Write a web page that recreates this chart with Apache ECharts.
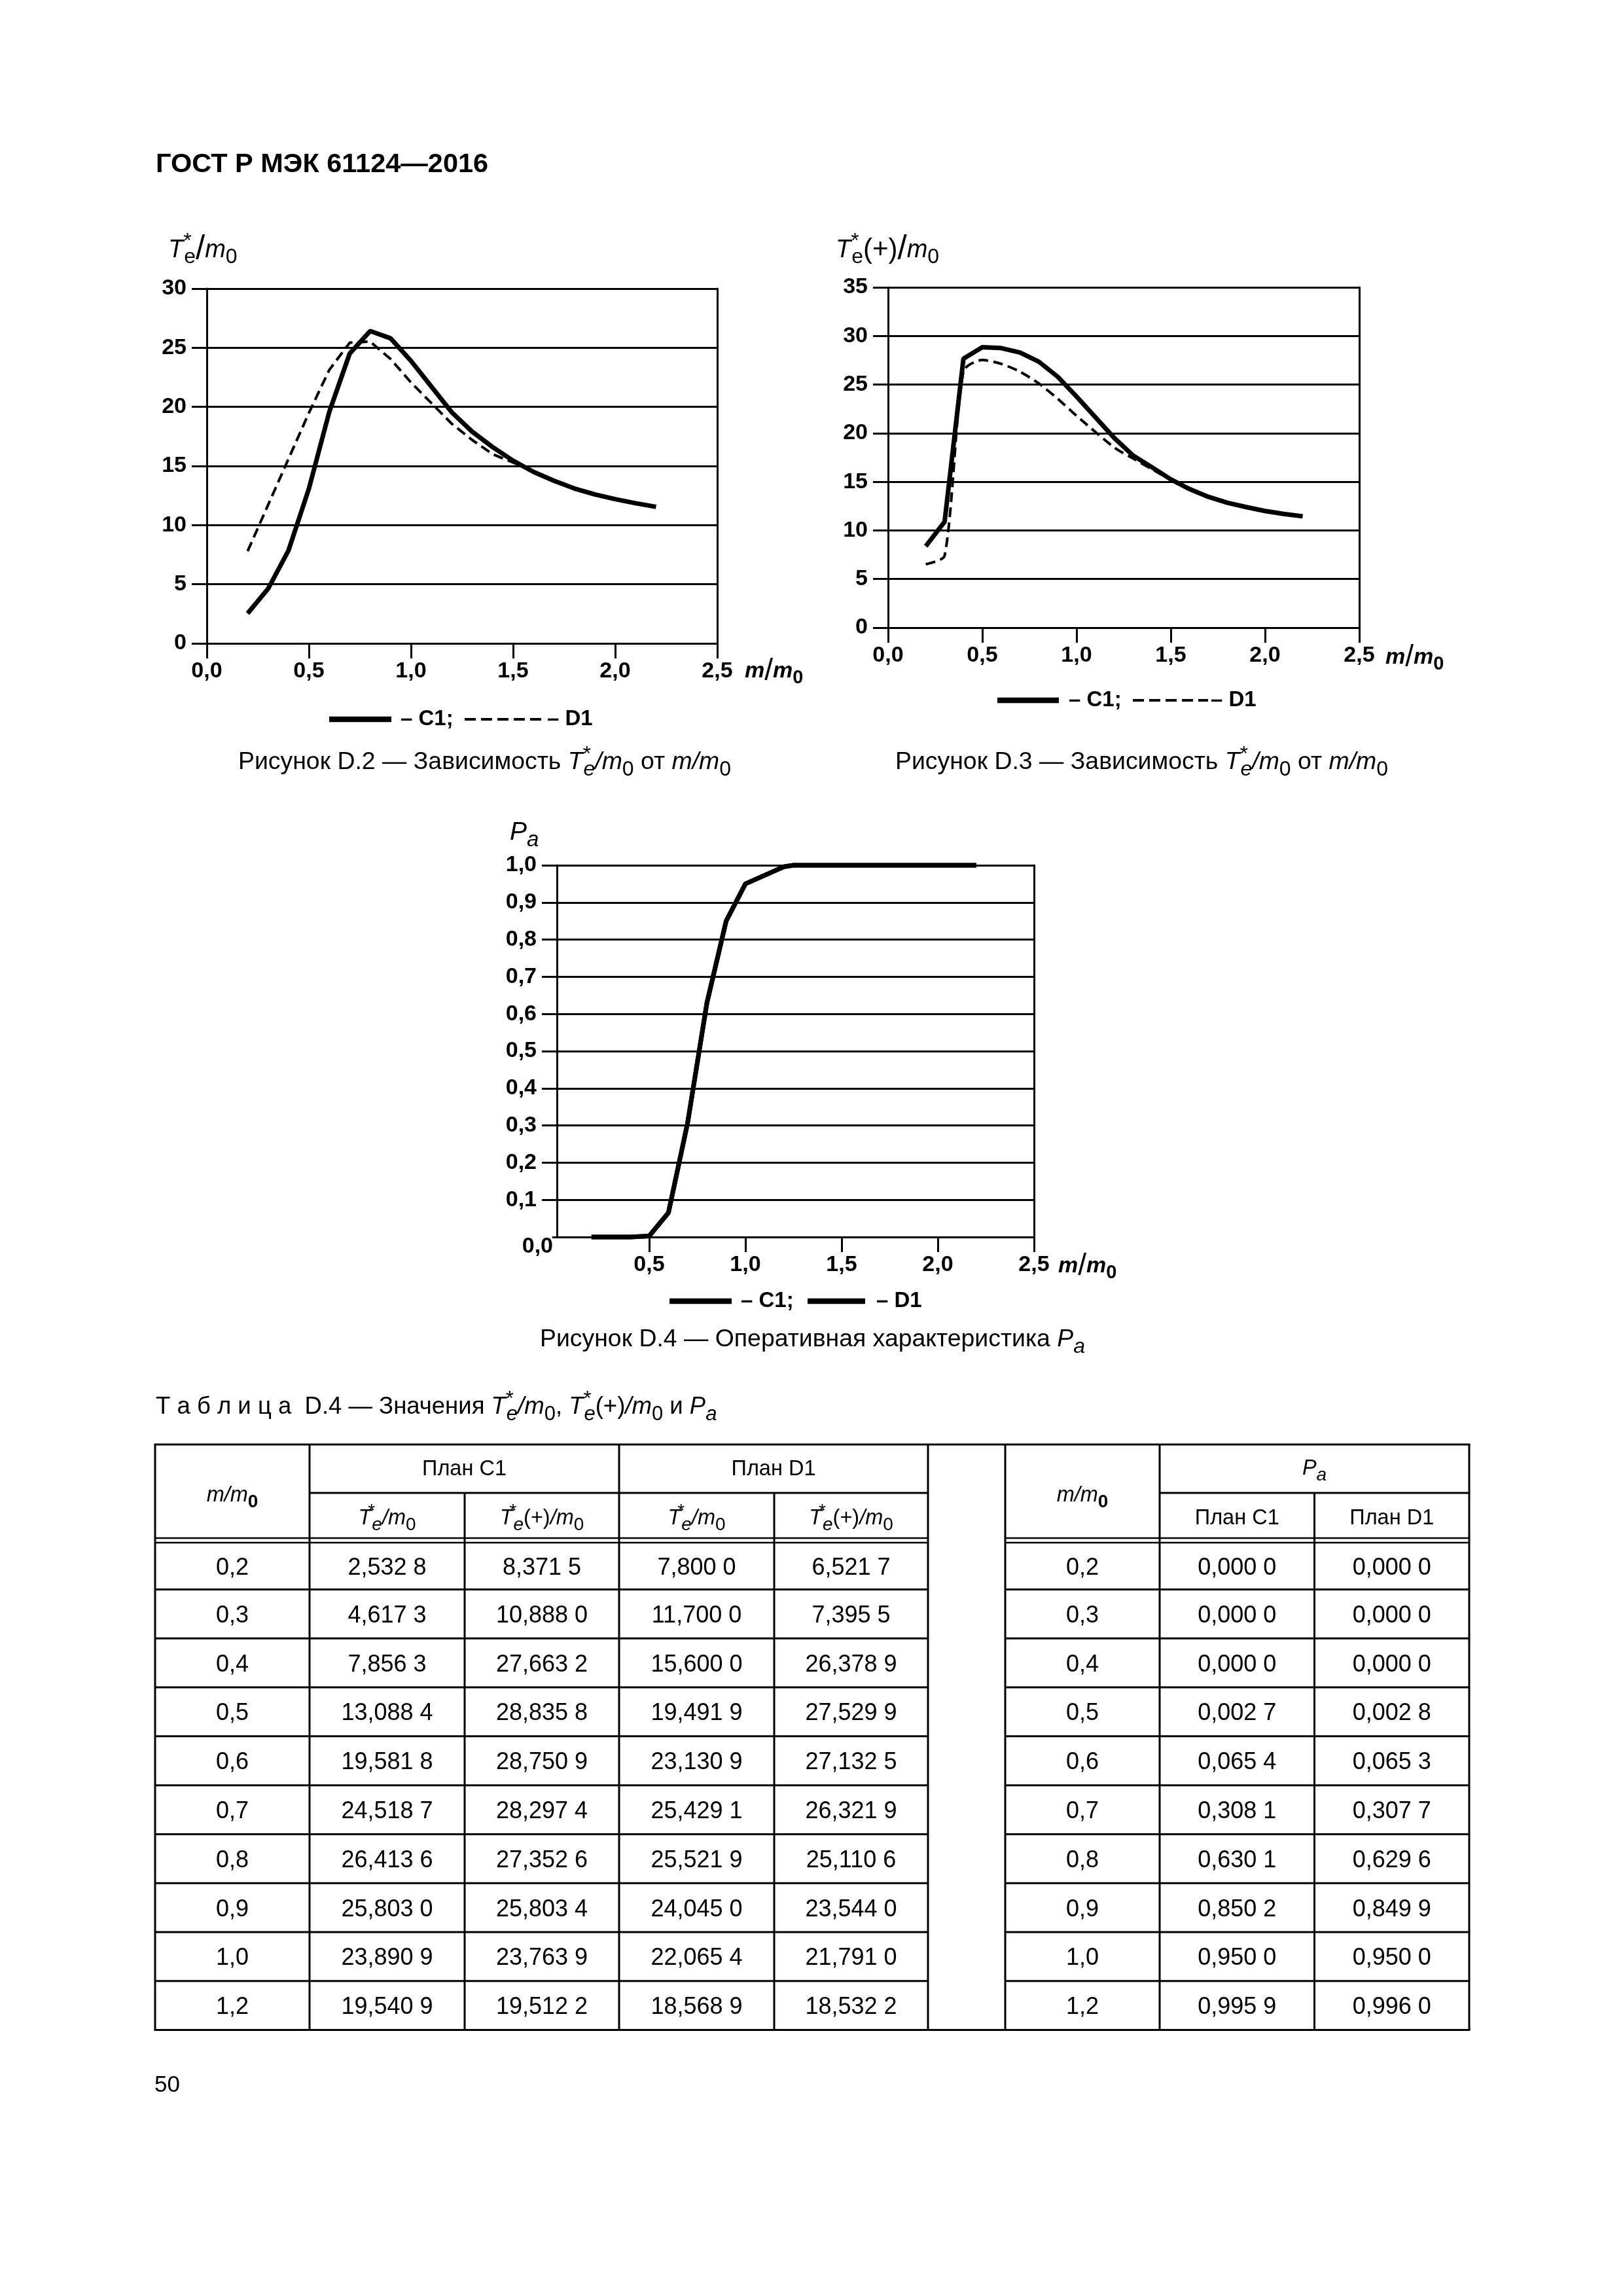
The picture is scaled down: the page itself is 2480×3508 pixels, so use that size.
<!DOCTYPE html>
<html><head><meta charset="utf-8">
<script src="https://cdn.jsdelivr.net/npm/echarts@6/dist/echarts.min.js"></script>
<style>html,body{margin:0;padding:0;background:#fff}#page{width:2480px;height:3508px}</style>
</head><body><div id="page"></div>
<script>
// ---------------- data (Table D.4) ----------------
const mTable   = [0.2, 0.3, 0.4, 0.5, 0.6, 0.7, 0.8, 0.9, 1.0, 1.2];
const c1Te     = [2.5328, 4.6173, 7.8563, 13.0884, 19.5818, 24.5187, 26.4136, 25.8030, 23.8909, 19.5409];
const c1TePlus = [8.3715, 10.8880, 27.6632, 28.8358, 28.7509, 28.2974, 27.3526, 25.8034, 23.7639, 19.5122];
const d1Te     = [7.8000, 11.7000, 15.6000, 19.4919, 23.1309, 25.4291, 25.5219, 24.0450, 22.0654, 18.5689];
const d1TePlus = [6.5217, 7.3955, 26.3789, 27.5299, 27.1325, 26.3219, 25.1106, 23.5440, 21.7910, 18.5322];
const c1Pa     = [0.0000, 0.0000, 0.0000, 0.0027, 0.0654, 0.3081, 0.6301, 0.8502, 0.9500, 0.9959];
const d1Pa     = [0.0000, 0.0000, 0.0000, 0.0028, 0.0653, 0.3077, 0.6296, 0.8499, 0.9500, 0.9960];
// ---------------- curve continuations ----------------
const tailM          = [1.3, 1.4, 1.5, 1.6, 1.7, 1.8, 1.9, 2.0, 2.1, 2.2];
const c1TeTail       = [17.9, 16.6, 15.45, 14.5, 13.75, 13.1, 12.6, 12.2, 11.85, 11.55];
const d1TeTailM      = [1.3, 1.4, 1.5, 1.6];
const d1TeTail       = [17.2, 16.0, 15.3, 14.5];
const c1TePlusTail   = [17.7, 16.5, 15.25, 14.25, 13.45, 12.85, 12.4, 12.0, 11.7, 11.45];
const d1TePlusTailM  = [1.3, 1.4, 1.5];
const d1TePlusTail   = [17.4, 16.3, 15.2];
const paTailM        = [1.25, 1.6, 2.0, 2.2];
const c1PaTail       = [1.0, 1.0, 1.0, 1.0];
const d1PaTail       = [1.0, 1.0, 1.0, 1.0];
// ---------------- tick values ----------------
const xTicksPa = [0.5, 1.0, 1.5, 2.0, 2.5];
const yTicksPa = [0.1, 0.2, 0.3, 0.4, 0.5, 0.6, 0.7, 0.8, 0.9, 1.0];

// ---------------- helpers ----------------
const FF = '"Liberation Sans", Arial, Helvetica, sans-serif';
const fmt1 = v => (Math.round(v * 10) / 10).toFixed(1).replace('.', ',');
const fmt4 = v => { const s = v.toFixed(4).replace('.', ','); return s.slice(0, -1) + ' ' + s.slice(-1); };
const pairs = (xs, ys) => xs.map((x, i) => [x, ys[i]]);

function rich(S, w) {
  const b = {fontFamily: FF, fill: '#000', fontWeight: w || 'normal'};
  const sub = Math.round(S * 0.85);
  const dn = Math.round(S * 0.6);
  return {
    n: Object.assign({}, b, {fontSize: S}),
    i: Object.assign({}, b, {fontSize: S, fontStyle: 'italic'}),
    sub: Object.assign({}, b, {fontSize: sub, padding: [dn, 0, 0, 0]}),
    bsub: Object.assign({}, b, {fontSize: sub, fontWeight: 'bold', padding: [dn, 0, 0, 0]}),
    isub: Object.assign({}, b, {fontSize: sub, fontStyle: 'italic', padding: [dn, 0, 0, 0]}),
    sup: Object.assign({}, b, {fontSize: sub, width: 1, padding: [0, 0, Math.round(S * 0.65), 0]}),
    sl: Object.assign({}, b, {fontSize: Math.round(S * 1.35), fontWeight: 'normal'}),
    p: Object.assign({}, b, {fontSize: Math.round(S * 1.1)})
  };
}
function txt(x, y, text, S, opt) {
  opt = opt || {};
  return {type: 'text', x: x, y: y, silent: true, z: 100,
    style: {text: text, fill: '#000', fontFamily: FF, fontSize: S, fontWeight: opt.w || 'normal',
      fontStyle: opt.style || 'normal', align: opt.align || 'left', verticalAlign: 'middle',
      rich: rich(S, opt.w)}};
}
function ln(x1, y1, x2, y2, w, dash) {
  return {type: 'line', silent: true, z: 100, shape: {x1: x1, y1: y1, x2: x2, y2: y2},
    style: {stroke: '#000', lineWidth: w, lineDash: dash || null, lineCap: 'butt'}};
}

const AX = {color: '#000', width: 3};
const LBL = {color: '#000', fontFamily: FF, fontSize: 34, fontWeight: 'bold'};
function xAxisCfg(gi, extraTick, extraLabel) {
  return {gridIndex: gi, type: 'value', min: 0, max: 2.5, interval: 0.5,
    axisLine: {show: true, onZero: false, lineStyle: AX},
    axisTick: Object.assign({show: true, length: 23, lineStyle: AX}, extraTick || {}),
    axisLabel: Object.assign({show: true, margin: 26, formatter: fmt1}, LBL, extraLabel || {}),
    splitLine: {show: false}};
}
function yAxisCfg(gi, max, interval, extra) {
  return Object.assign({gridIndex: gi, type: 'value', min: 0, max: max, interval: interval,
    axisLine: {show: true, onZero: false, lineStyle: AX},
    axisTick: {show: true, length: 23, lineStyle: AX},
    axisLabel: Object.assign({show: true, margin: 31, formatter: v => String(Math.round(v))}, LBL),
    splitLine: {show: true, lineStyle: {color: '#000', width: 3}}}, extra || {});
}
function rightAxis(gi) {
  return {gridIndex: gi, type: 'value', position: 'right', min: 0, max: 1,
    axisLine: {show: true, onZero: false, lineStyle: AX}, axisTick: {show: false},
    axisLabel: {show: false}, splitLine: {show: false}};
}
function lineSeries(xi, data, width, dash, z, smooth) {
  return {type: 'line', xAxisIndex: xi, yAxisIndex: xi, data: data, symbol: 'none', clip: false,
    smooth: smooth || false, silent: true, z: z,
    lineStyle: {color: '#000', width: width, type: dash || 'solid'}};
}

const paLabelRich = {
  a: {color: '#000', fontFamily: FF, fontSize: 34, fontWeight: 'bold', padding: [0, 25, 0, 0]},
  z: {color: '#000', fontFamily: FF, fontSize: 34, fontWeight: 'bold', padding: [30, 0, 0, 0]}
};

// ---------------- graphic: texts, legends, table ----------------
const CAP = 37.4, TB = 36, TH = 32.5;
const G = [];
G.push(txt(238, 252, 'ГОСТ Р МЭК 61124—2016', 41.5, {w: 'bold'}));
// axis names
G.push(txt(257, 382, '{i|T}{sup|*}{sub|e}{sl|/}{i|m}{sub|0}', 38));
G.push(txt(1277, 382, '{i|T}{sup|*}{sub|e}{p|(+)}{sl|/}{i|m}{sub|0}', 38));
G.push(txt(779, 1272, '{i|P}{isub|a}', 39));
G.push(txt(1138, 1026, '{i|m}{sl|/}{i|m}{bsub|0}', 34, {w: 'bold'}));
G.push(txt(2117, 1005, '{i|m}{sl|/}{i|m}{bsub|0}', 34, {w: 'bold'}));
G.push(txt(1617, 1935, '{i|m}{sl|/}{i|m}{bsub|0}', 34, {w: 'bold'}));
// legends
G.push(ln(503, 1099, 598, 1099, 8.5), txt(612, 1099, '– C1;', 33, {w: 'bold'}),
       ln(710, 1099, 831, 1099, 4, [17, 8]), txt(836, 1099, '– D1', 33, {w: 'bold'}));
G.push(ln(1524, 1070, 1618, 1070, 8.5), txt(1633, 1070, '– C1;', 33, {w: 'bold'}),
       ln(1731, 1070, 1846, 1070, 4, [17, 8]), txt(1850, 1070, '– D1', 33, {w: 'bold'}));
G.push(ln(1023, 1988, 1118, 1988, 8.5), txt(1132, 1988, '– C1;', 33, {w: 'bold'}),
       ln(1234, 1988, 1322, 1988, 8.5), txt(1339, 1988, '– D1', 33, {w: 'bold'}));
// captions
G.push(txt(364, 1165, 'Рисунок D.2 — Зависимость {i|T}{sup|*}{isub|e}{i|/m}{sub|0} от {i|m/m}{sub|0}', CAP));
G.push(txt(1368, 1165, 'Рисунок D.3 — Зависимость {i|T}{sup|*}{isub|e}{i|/m}{sub|0} от {i|m/m}{sub|0}', CAP));
G.push(txt(825, 2047, 'Рисунок D.4 — Оперативная характеристика {i|P}{isub|a}', CAP));
// table title
G.push(txt(238, 2150, 'Т а б л и ц а  D.4 — Значения {i|T}{sup|*}{isub|e}{i|/m}{sub|0}, {i|T}{sup|*}{isub|e}(+){i|/m}{sub|0} и {i|P}{isub|a}', 36.5));
// page number
G.push(txt(236, 3186, '50', 35));

// table grid
const TX = [237, 473, 710, 946, 1183, 1418];
const TX2 = [1536, 1772, 2008.5, 2245];
const yTop = 2207, ySplit = 2281, yD1 = 2350, yD2 = 2357;
const rowLines = [];
for (let k = 0; k < 10; k++) rowLines.push(2428.5 + 74.79 * k);
const yBot = rowLines[9];
G.push(ln(TX[0] - 1.5, yTop, TX2[3] + 1.5, yTop, 3), ln(TX[0] - 1.5, yBot, TX2[3] + 1.5, yBot, 3));
G.push(ln(TX[1], ySplit, TX[5], ySplit, 3), ln(TX2[1], ySplit, TX2[3], ySplit, 3));
[yD1, yD2].forEach(y => { G.push(ln(TX[0], y, TX[5], y, 2.5), ln(TX2[0], y, TX2[3], y, 2.5)); });
for (let k = 0; k < 9; k++) G.push(ln(TX[0], rowLines[k], TX[5], rowLines[k], 3), ln(TX2[0], rowLines[k], TX2[3], rowLines[k], 3));
[TX[0], TX[1], TX[3], TX[5], TX2[0], TX2[1], TX2[3]].forEach(x => G.push(ln(x, yTop, x, yBot, 3)));
[TX[2], TX[4], TX2[2]].forEach(x => G.push(ln(x, ySplit, x, yBot, 3)));
// table header
const cc = (a, b) => (a + b) / 2;
G.push(txt(cc(TX[0], TX[1]), 2285, '{i|m/m}{bsub|0}', TH, {align: 'center'}));
G.push(txt(cc(TX2[0], TX2[1]), 2285, '{i|m/m}{bsub|0}', TH, {align: 'center'}));
G.push(txt(cc(TX[1], TX[3]), 2245, 'План C1', TH, {align: 'center'}));
G.push(txt(cc(TX[3], TX[5]), 2245, 'План D1', TH, {align: 'center'}));
G.push(txt(cc(TX2[1], TX2[3]), 2244, '{i|P}{isub|a}', TH, {align: 'center'}));
const subA = '{i|T}{sup|*}{isub|e}{i|/m}{sub|0}', subB = '{i|T}{sup|*}{isub|e}(+){i|/m}{sub|0}';
G.push(txt(cc(TX[1], TX[2]), 2320, subA, TH, {align: 'center'}));
G.push(txt(cc(TX[2], TX[3]), 2320, subB, TH, {align: 'center'}));
G.push(txt(cc(TX[3], TX[4]), 2320, subA, TH, {align: 'center'}));
G.push(txt(cc(TX[4], TX[5]), 2320, subB, TH, {align: 'center'}));
G.push(txt(cc(TX2[1], TX2[2]), 2320, 'План C1', TH, {align: 'center'}));
G.push(txt(cc(TX2[2], TX2[3]), 2320, 'План D1', TH, {align: 'center'}));
// table body
const leftCols = [mTable, c1Te, c1TePlus, d1Te, d1TePlus];
const rightCols = [mTable, c1Pa, d1Pa];
for (let r = 0; r < mTable.length; r++) {
  const top = r === 0 ? yD2 : rowLines[r - 1];
  const yc = (top + rowLines[r]) / 2 + 3;
  leftCols.forEach((col, c) => G.push(txt(cc(TX[c], TX[c + 1]), yc, c === 0 ? fmt1(col[r]) : fmt4(col[r]), TB, {align: 'center'})));
  rightCols.forEach((col, c) => G.push(txt(cc(TX2[c], TX2[c + 1]), yc, c === 0 ? fmt1(col[r]) : fmt4(col[r]), TB, {align: 'center'})));
}

// ---------------- chart option ----------------
const option = {
  animation: false,
  backgroundColor: '#fff',
  grid: [
    {left: 316, top: 441, width: 780, height: 542},
    {left: 1357, top: 439, width: 720, height: 520},
    {left: 845, top: 1322, width: 735, height: 568}
  ],
  xAxis: [
    xAxisCfg(0), xAxisCfg(1),
    xAxisCfg(2, {customValues: xTicksPa}, {customValues: xTicksPa})
  ],
  yAxis: [
    yAxisCfg(0, 30, 5),
    yAxisCfg(1, 35, 5),
    yAxisCfg(2, 1, 0.1, {
      offset: -6,
      axisTick: {show: true, length: 23, lineStyle: AX, customValues: yTicksPa},
      axisLabel: {show: true, margin: 6, rich: paLabelRich,
        formatter: v => (Math.abs(v) < 1e-9 ? '{z|0,0}' : '{a|' + fmt1(v) + '}')}
    }),
    rightAxis(0), rightAxis(1), rightAxis(2)
  ],
  series: [
    lineSeries(0, pairs(mTable, d1Te).concat(pairs(d1TeTailM, d1TeTail)), 4, [15, 8], 2),
    lineSeries(0, pairs(mTable, c1Te).concat(pairs(tailM, c1TeTail)), 7, null, 3),
    lineSeries(1, pairs(mTable, d1TePlus).concat(pairs(d1TePlusTailM, d1TePlusTail)), 4, [15, 8], 2, 0.25),
    lineSeries(1, pairs(mTable, c1TePlus).concat(pairs(tailM, c1TePlusTail)), 7, null, 3),
    lineSeries(2, pairs(mTable, d1Pa).concat(pairs(paTailM, d1PaTail)), 7, null, 2),
    lineSeries(2, pairs(mTable, c1Pa).concat(pairs(paTailM, c1PaTail)), 7, null, 3)
  ],
  graphic: G
};
const chart = echarts.init(document.getElementById('page'), null, {renderer: 'canvas'});
chart.setOption(option);
</script>
</body></html>
